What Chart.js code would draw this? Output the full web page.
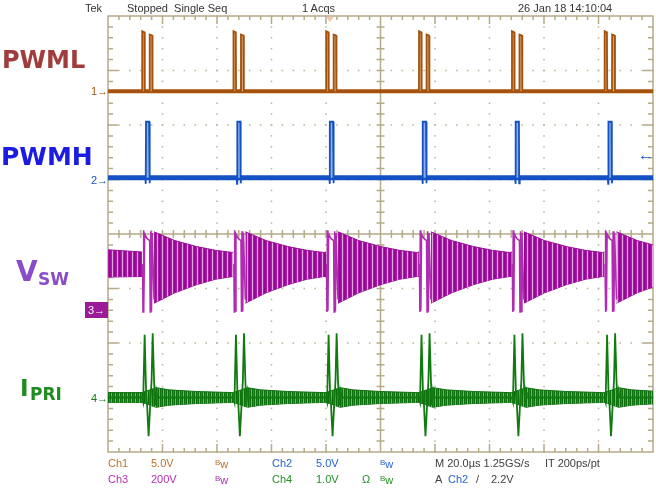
<!DOCTYPE html>
<html lang="en">
<head>
<meta charset="utf-8">
<title>Tek scope capture</title>
<style>
  body { margin: 0; background: #fff; }
  #wrap { position: relative; width: 656px; height: 495px; overflow: hidden; font-family: "Liberation Sans", Arial, sans-serif; }
  #scope { position: absolute; left: 0; top: 0; }
  .t { position: absolute; white-space: nowrap; font-size: 11px; line-height: 12px; color: #333; }
  .big { position: absolute; white-space: nowrap; font-weight: bold; font-family: "DejaVu Sans", sans-serif; line-height: 1; }
  .bw b { font-weight: normal; font-size: 8px; vertical-align: 3px; }
  .mk { position: absolute; font-size: 11px; line-height: 12px; white-space: nowrap; }
</style>
</head>
<body>
<div id="wrap">
  <canvas id="scope" width="656" height="495"></canvas>

  <!-- header -->
  <div class="t" style="left:85px;top:2px">Tek</div>
  <div class="t" style="left:127px;top:2px">Stopped&nbsp;&nbsp;Single Seq</div>
  <div class="t" style="left:302px;top:2px">1 Acqs</div>
  <div class="t" style="left:518px;top:2px">26 Jan 18 14:10:04</div>

  <!-- channel names -->
  <div class="big" style="left:2px;top:48px;font-size:24px;color:#a03c3c">PWML</div>
  <div class="big" style="left:1px;top:144px;font-size:25px;color:#1c1ce0">PWMH</div>
  <div class="big" style="left:16px;top:258px;font-size:28px;color:#8a4cc8">V</div>
  <div class="big" style="left:38px;top:271px;font-size:17px;color:#8a4cc8">SW</div>
  <div class="big" style="left:20px;top:377px;font-size:23px;color:#1e8c1e">I</div>
  <div class="big" style="left:30px;top:386px;font-size:17px;color:#1e8c1e">PRI</div>

  <!-- level markers -->
  <div class="mk" style="left:91px;top:85px;color:#a4520c">1&#8594;</div>
  <div class="mk" style="left:91px;top:174px;color:#1452c4">2&#8594;</div>
  <div class="mk" style="left:85px;top:302px;width:23px;height:16px;line-height:16px;background:#9a1a9a;color:#fff;text-align:center">3&#8594;</div>
  <div class="mk" style="left:91px;top:392px;color:#117a11">4&#8594;</div>
  <div class="mk" style="left:638px;top:146px;color:#1452c4;font-size:16px;line-height:18px;font-weight:bold">&#8592;</div>

  <!-- footer -->
  <div class="t" style="left:108px;top:457px;color:#b8732e">Ch1</div>
  <div class="t" style="left:151px;top:457px;color:#b8732e">5.0V</div>
  <div class="t bw" style="left:215px;top:457px;color:#b8732e"><b>B</b>w</div>
  <div class="t" style="left:272px;top:457px;color:#2563d0">Ch2</div>
  <div class="t" style="left:316px;top:457px;color:#2563d0">5.0V</div>
  <div class="t bw" style="left:380px;top:457px;color:#2563d0"><b>B</b>w</div>
  <div class="t" style="left:435px;top:457px;color:#404040">M 20.0µs 1.25GS/s</div>
  <div class="t" style="left:545px;top:457px;color:#404040">IT 200ps/pt</div>

  <div class="t" style="left:108px;top:473px;color:#b030b0">Ch3</div>
  <div class="t" style="left:151px;top:473px;color:#b030b0">200V</div>
  <div class="t bw" style="left:215px;top:473px;color:#b030b0"><b>B</b>w</div>
  <div class="t" style="left:272px;top:473px;color:#239023">Ch4</div>
  <div class="t" style="left:316px;top:473px;color:#239023">1.0V</div>
  <div class="t" style="left:362px;top:473px;color:#239023">Ω</div>
  <div class="t bw" style="left:380px;top:473px;color:#239023"><b>B</b>w</div>
  <div class="t" style="left:435px;top:473px;color:#404040">A</div>
  <div class="t" style="left:448px;top:473px;color:#2563d0">Ch2</div>
  <div class="t" style="left:476px;top:473px;color:#404040">/</div>
  <div class="t" style="left:491px;top:473px;color:#404040">2.2V</div>
</div>

<script src="https://cdn.jsdelivr.net/npm/chart.js"></script>
<script>
// time axis in µs (20 µs/div, 10 divs), vertical axis in divisions (8 divs)
const xMin = 0, xMax = 200, xDiv = 20;
const yMin = -4, yMax = 4;

// start of each switching cycle (Ch1 first rising edge), µs
const startTimes = [12.5, 46.0, 80.0, 114.1, 148.2, 182.2];

// Ch1 PWML: baseline and the double pulse (offset µs, div)
const ch1Level = 2.62;
const ch1Pulse = [[0.0, 2.62], [0.05, 3.72], [0.9, 3.70], [1.0, 2.62], [2.75, 2.62], [2.8, 3.66], [3.75, 3.64], [3.85, 2.62]];

// Ch2 PWMH
const ch2Level = 1.03;
const ch2Pulse = [[1.2, 1.03], [1.35, 0.92], [1.45, 2.06], [2.6, 2.06], [2.7, 0.93], [2.9, 1.03]];

// Ch3 VSW: ringing envelope and switching edges
const ch3Lead = [-0.29, -0.79];
const ch3Top = [[0, -0.33], [2.0, null], [4.4, 0.04], [12, -0.12], [20, -0.23], [27, -0.30], [33.3, -0.34]];
const ch3Bottom = [[0, -0.78], [2.0, null], [4.4, -1.27], [12, -1.08], [20, -0.93], [27, -0.83], [33.3, -0.78]];
const ch3Edges = [[0.2, -0.55], [0.35, -1.43], [0.5, 0.07], [0.7, -1.41], [0.95, 0.0], [1.8, -0.08], [2.8, -0.12], [3.0, -1.43], [3.2, 0.05], [3.45, -1.42], [3.7, 0.02], [4.4, -1.2]];

// Ch4 IPRI: current spike and noise band
const ch4Level = -3.0;
const ch4Spike = [[0, -3.0], [0.4, -3.08], [0.95, -1.85], [1.5, -2.95], [1.85, -3.14], [2.4, -3.71], [2.9, -3.23], [3.5, -2.68], [3.9, -1.82], [4.4, -2.68], [4.8, -3.14], [5.2, -2.9], [5.5, -3.0]];
const ch4Lead = [-2.91, -3.09];
const ch4Top = [[0, -2.91], [5.2, -2.82], [10, -2.86], [20, -2.89], [33.3, -2.91]];
const ch4Bottom = [[0, -3.09], [5.2, -3.18], [10, -3.14], [20, -3.11], [33.3, -3.09]];

function repeatShape(shape, lead, tail, breakAfter) {
  const pts = [];
  if (lead !== null) pts.push({x: xMin, y: lead});
  startTimes.forEach(t0 => {
    shape.forEach(p => pts.push({x: t0 + p[0], y: p[1]}));
    if (breakAfter) pts.push({x: t0 + shape[shape.length - 1][0] + 0.01, y: null});
  });
  if (tail !== null) pts.push({x: xMax, y: tail});
  return pts;
}

const canvas = document.getElementById('scope');
const ctx = canvas.getContext('2d');

function stripes(colors) {
  const c = document.createElement('canvas');
  c.width = colors.length; c.height = 1;
  const g = c.getContext('2d');
  colors.forEach((col, i) => { g.fillStyle = col; g.fillRect(i, 0, 1, 1); });
  return ctx.createPattern(c, 'repeat');
}
const purpleFill = stripes(['#9a0d9a', '#a81ca8', '#e4a4e4', '#a81ca8', '#8c0a8c']);
const greenFill = stripes(['#0e700e', '#2a8f2a', '#0e700e', '#6cb86c']);

const graticule = {
  id: 'graticule',
  beforeDatasetsDraw(chart) {
    const c = chart.ctx, sx = chart.scales.x, sy = chart.scales.y;
    const L = sx.getPixelForValue(xMin), R = sx.getPixelForValue(xMax);
    const T = sy.getPixelForValue(yMax), B = sy.getPixelForValue(yMin);
    const cx = sx.getPixelForValue((xMin + xMax) / 2), cy = sy.getPixelForValue(0);
    c.save();
    // dotted grid
    c.fillStyle = '#bcb392';
    for (let i = 1; i < 10; i++) {
      if (i === 5) continue;
      const px = sx.getPixelForValue(xMin + i * xDiv);
      for (let k = 0; k <= 40; k++) c.fillRect(px - 0.75, sy.getPixelForValue(yMin + k * 0.2) - 0.75, 1.5, 1.5);
    }
    for (let j = 1; j < 8; j++) {
      if (j === 4) continue;
      const py = sy.getPixelForValue(yMin + j);
      for (let k = 0; k <= 50; k++) c.fillRect(sx.getPixelForValue(xMin + k * 4) - 0.75, py - 0.75, 1.5, 1.5);
    }
    // frame and center cross
    c.strokeStyle = '#b5ab88';
    c.lineWidth = 1.5;
    c.strokeRect(L, T, R - L, B - T);
    c.beginPath();
    c.moveTo(cx, T); c.lineTo(cx, B);
    c.moveTo(L, cy); c.lineTo(R, cy);
    // minor ticks
    for (let k = 1; k < 50; k++) {
      const px = sx.getPixelForValue(xMin + k * 4);
      const len = k % 5 === 0 ? 8 : 4;
      c.moveTo(px, T); c.lineTo(px, T + len);
      c.moveTo(px, B); c.lineTo(px, B - len);
      c.moveTo(px, cy - 4); c.lineTo(px, cy + 4);
    }
    for (let k = 1; k < 40; k++) {
      const py = sy.getPixelForValue(yMin + k * 0.2);
      const len = k % 5 === 0 ? 10 : 5;
      c.moveTo(L, py); c.lineTo(L + len, py);
      c.moveTo(R, py); c.lineTo(R - len, py);
      c.moveTo(cx - 4, py); c.lineTo(cx + 4, py);
    }
    c.stroke();
    // trigger position marker
    const tx = sx.getPixelForValue(startTimes[2] + ch2Pulse[2][0]);
    c.fillStyle = '#f6c9ad';
    c.beginPath();
    c.moveTo(tx - 4, T + 1); c.lineTo(tx + 4, T + 1); c.lineTo(tx, T + 6); c.closePath();
    c.fill();
    c.restore();
  }
};

function line(data, color, width, order, extra) {
  return Object.assign({
    data: data, borderColor: color, borderWidth: width, pointRadius: 0,
    tension: 0, fill: false, spanGaps: false, order: order
  }, extra || {});
}

new Chart(ctx, {
  type: 'line',
  data: {
    datasets: [
      // Ch1
      line([{x: xMin, y: ch1Level}, {x: xMax, y: ch1Level}], '#a4520c', 4, 5),
      line(repeatShape(ch1Pulse, ch1Level, ch1Level, false), '#a4520c', 1.8, 1,
        {fill: {value: ch1Level}, backgroundColor: '#d6aa80'}),
      // Ch2
      line([{x: xMin, y: ch2Level}, {x: xMax, y: ch2Level}], '#1452c4', 5, 5),
      line(repeatShape(ch2Pulse, ch2Level, ch2Level, false), '#1452c4', 1.8, 1,
        {fill: {value: ch2Level}, backgroundColor: '#8eaee6'}),
      // Ch3 envelope (upper fills to lower)
      line(repeatShape(ch3Top, ch3Lead[0], null, false), '#9a0d9a', 1, 6,
        {fill: '+1', backgroundColor: purpleFill}),
      line(repeatShape(ch3Bottom, ch3Lead[1], null, false), '#9a0d9a', 1, 6),
      line(repeatShape(ch3Edges, null, null, true), '#b02cb0', 1.6, 2),
      // Ch4 noise band and spike
      line(repeatShape(ch4Top, ch4Lead[0], ch4Lead[0], false), '#0e700e', 1, 6,
        {fill: '+1', backgroundColor: greenFill}),
      line(repeatShape(ch4Bottom, ch4Lead[1], ch4Lead[1], false), '#0e700e', 1, 6),
      line(repeatShape(ch4Spike, ch4Level, ch4Level, false), '#117a11', 1.8, 2)
    ]
  },
  options: {
    responsive: false,
    animation: false,
    events: [],
    layout: { padding: { left: 108, right: 3, top: 16, bottom: 43 } },
    plugins: { legend: { display: false }, tooltip: { enabled: false } },
    scales: {
      x: { type: 'linear', min: xMin, max: xMax, display: false },
      y: { type: 'linear', min: yMin, max: yMax, display: false }
    }
  },
  plugins: [graticule]
});
</script>
</body>
</html>
